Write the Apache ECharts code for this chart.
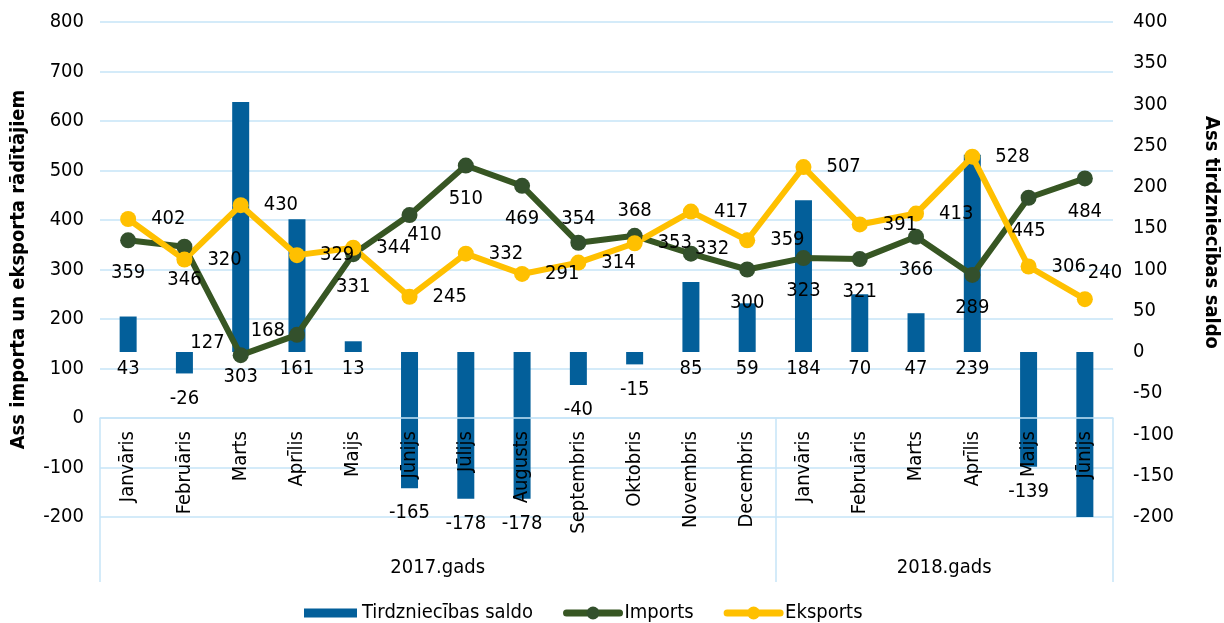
<!DOCTYPE html>
<html>
<head>
<meta charset="utf-8">
<script src="https://cdn.jsdelivr.net/npm/echarts@6.0.0/dist/echarts.min.js"></script>
<style>
  html, body { margin: 0; padding: 0; background: #fff; }
  #main { width: 1224px; height: 623px; }
</style>
</head>
<body>
<div id="main"></div>
<script>
// kategorijas (mēneši)
const months = ['Janvāris', 'Februāris', 'Marts', 'Aprīlis', 'Maijs', 'Jūnijs', 'Jūlijs', 'Augusts',
  'Septembris', 'Oktobris', 'Novembris', 'Decembris',
  'Janvāris', 'Februāris', 'Marts', 'Aprīlis', 'Maijs', 'Jūnijs'];
const groupNames = ['2017.gads', '2018.gads'];
const groupSizes = [12, 6];

// dati
const saldo = [43, -26, 303, 161, 13, -165, -178, -178, -40, -15, 85, 59, 184, 70, 47, 239, -139, -244];
const imports = [359, 346, 127, 168, 331, 410, 510, 469, 354, 368, 332, 300, 323, 321, 366, 289, 445, 484];
const eksports = [402, 320, 430, 329, 344, 245, 332, 291, 314, 353, 417, 359, 507, 391, 413, 528, 306, 240];

// asis
const leftAxis = { min: -200, max: 800, step: 100 };
const rightAxis = { min: -200, max: 400, step: 50 };

// etiķešu izvietojuma korekcijas
const importLabelTweaks = {
  2: { position: 'left', distance: 8, offset: [0, -12] },
  3: { position: 'left', distance: 4, offset: [0, -4] },
  5: { position: 'bottom', distance: 2, offset: [15, 0] },
  8: { position: 'top', distance: 6 },
  9: { position: 'top', distance: 7 },
  10: { position: 'right', distance: -4, offset: [0, -5] }
};
const exportLabelTweaks = {
  17: { position: 'right', offset: [-20, -26] }
};
const saldoLabelTweaks = {
  2: { distance: 15 }
};

const font = "'DejaVu Sans Condensed', 'DejaVu Sans', sans-serif";
const gridColor = '#c6e5f7';
const gridTop = 22, gridBottom = 106;
const plotHeight = 623 - gridTop - gridBottom;

let chart = echarts.init(document.getElementById('main'));

// grupu robežas un centri
let bounds = [0];
groupSizes.forEach(s => bounds.push(bounds[bounds.length - 1] + s));
let centers = groupSizes.map((s, i) => bounds[i] + s / 2);

// kategoriju ass novietota pie kreisās ass nulles
let zeroOffset = -plotHeight * (0 - leftAxis.min) / (leftAxis.max - leftAxis.min);

let saldoData = saldo.map((v, i) => {
  let item = { value: v, label: { distance: v < 0 ? 15 : 7 } };
  if (saldoLabelTweaks[i]) Object.assign(item.label, saldoLabelTweaks[i]);
  if (v < rightAxis.min) item.label.show = false;
  return item;
});
let importData = imports.map((v, i) => importLabelTweaks[i] ? { value: v, label: importLabelTweaks[i] } : v);
let exportData = eksports.map((v, i) => exportLabelTweaks[i] ? { value: v, label: exportLabelTweaks[i] } : v);

let option = {
  animation: false,
  textStyle: { fontFamily: font, color: '#000' },
  grid: { left: 100, right: 111, top: gridTop, bottom: gridBottom, containLabel: false, outerBoundsMode: 'none' },
  legend: {
    left: 304,
    bottom: 0,
    padding: 0,
    itemWidth: 53,
    itemHeight: 16,
    itemGap: 30,
    lineStyle: { width: 7, cap: 'round' },
    textStyle: { fontSize: 20, color: '#000', fontFamily: font },
    data: [
      { name: 'Tirdzniecības saldo', icon: 'path://M0,0h53v9h-53z' },
      { name: 'Imports' },
      { name: 'Eksports' }
    ]
  },
  xAxis: [
    {
      type: 'category',
      data: months,
      z: 10,
      position: 'bottom',
      offset: zeroOffset,
      axisLine: { show: true, onZero: false, lineStyle: { color: gridColor, width: 1.5 } },
      axisTick: { show: false },
      axisLabel: { interval: 0, rotate: 90, fontSize: 20, color: '#000', margin: 13, fontFamily: font },
      splitLine: { show: false }
    },
    {
      // grupu atdalītāji
      type: 'value',
      min: bounds[0],
      max: bounds[bounds.length - 1],
      interval: groupSizes[0],
      position: 'bottom',
      offset: 65,
      axisLine: { show: false, onZero: false },
      axisTick: { show: true, inside: true, length: 65 - zeroOffset, lineStyle: { color: gridColor, width: 1.5 } },
      axisLabel: { show: false },
      splitLine: { show: false }
    },
    {
      // grupu nosaukumi
      type: 'value',
      min: bounds[0],
      max: bounds[bounds.length - 1],
      interval: 1,
      position: 'bottom',
      offset: 33,
      axisLine: { show: false, onZero: false },
      axisTick: { show: false },
      axisLabel: {
        fontSize: 20, color: '#000', margin: 8, fontFamily: font,
        showMinLabel: true, showMaxLabel: true,
        formatter: function (val) {
          let idx = centers.indexOf(val);
          return idx >= 0 ? groupNames[idx] : '';
        }
      },
      splitLine: { show: false }
    }
  ],
  yAxis: [
    {
      type: 'value',
      min: leftAxis.min,
      max: leftAxis.max,
      interval: leftAxis.step,
      name: 'Ass importa un eksporta rādītājiem',
      nameLocation: 'middle',
      nameRotate: 90,
      nameGap: 71,
      nameTextStyle: { fontSize: 20, fontWeight: 'bold', color: '#000', fontFamily: font },
      axisLine: { show: false, onZero: false },
      axisTick: { show: false },
      axisLabel: { fontSize: 20, color: '#000', margin: 16, fontFamily: font },
      splitLine: { show: true, lineStyle: { color: gridColor, width: 1.5 } }
    },
    {
      type: 'value',
      min: rightAxis.min,
      max: rightAxis.max,
      interval: rightAxis.step,
      position: 'right',
      name: 'Ass tirdzniecības saldo',
      nameLocation: 'middle',
      nameRotate: -90,
      nameGap: 88,
      nameTextStyle: { fontSize: 20, fontWeight: 'bold', color: '#000', fontFamily: font, padding: [0, 74, 0, 0] },
      axisLine: { show: false, onZero: false },
      axisTick: { show: false },
      axisLabel: { fontSize: 20, color: '#000', margin: 20, fontFamily: font },
      splitLine: { show: false }
    }
  ],
  series: [
    {
      name: 'Tirdzniecības saldo',
      type: 'bar',
      xAxisIndex: 0,
      yAxisIndex: 1,
      barWidth: 17,
      clip: true,
      itemStyle: { color: '#035f9a' },
      label: { show: true, position: 'bottom', fontSize: 20, color: '#000', fontFamily: font },
      data: saldoData
    },
    {
      name: 'Imports',
      type: 'line',
      xAxisIndex: 0,
      yAxisIndex: 0,
      symbol: 'circle',
      symbolSize: 16,
      lineStyle: { width: 6, color: '#375623' },
      itemStyle: { color: '#33502c' },
      label: { show: true, position: 'bottom', distance: 15, fontSize: 20, color: '#000', fontFamily: font },
      data: importData
    },
    {
      name: 'Eksports',
      type: 'line',
      xAxisIndex: 0,
      yAxisIndex: 0,
      symbol: 'circle',
      symbolSize: 16,
      lineStyle: { width: 6, color: '#ffc000' },
      itemStyle: { color: '#ffc000' },
      label: { show: true, position: 'right', distance: 15, fontSize: 20, color: '#000', fontFamily: font },
      data: exportData
    }
  ]
};

chart.setOption(option);
</script>
</body>
</html>
